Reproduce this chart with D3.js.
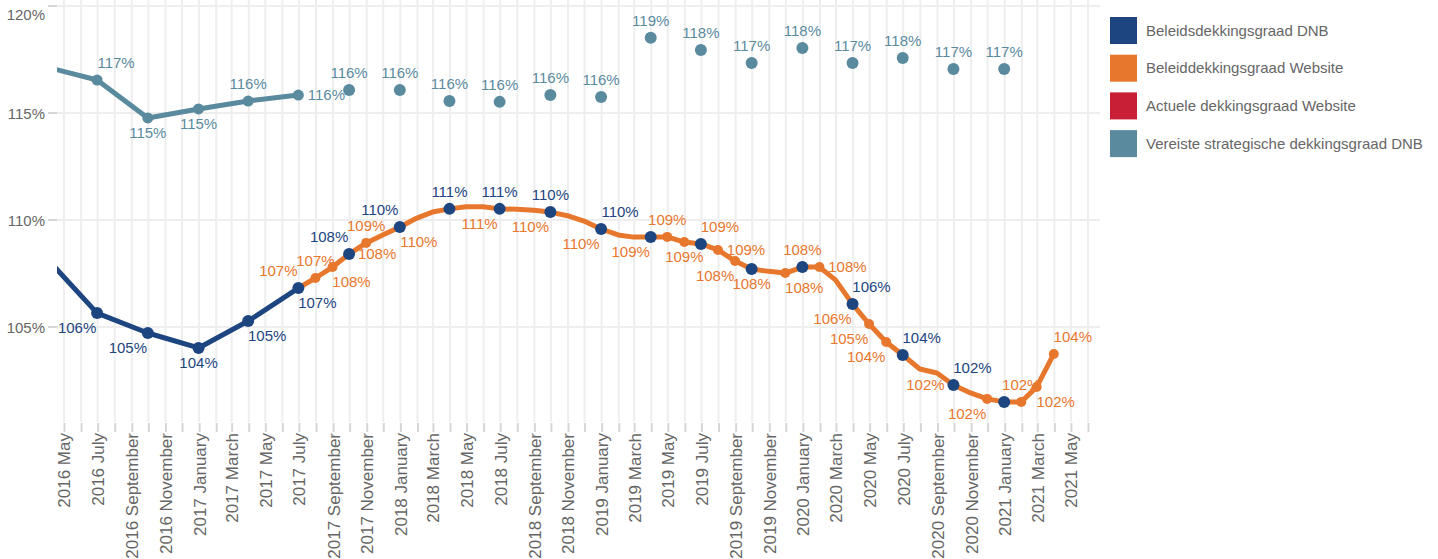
<!DOCTYPE html>
<html>
<head>
<meta charset="utf-8">
<script src="https://cdnjs.cloudflare.com/ajax/libs/d3/7.8.5/d3.min.js"></script>
<style>
  body { margin: 0; background: #fff; }
  svg { font-family: "Liberation Sans", Arial, sans-serif; }
</style>
</head>
<body>
<svg id="chart" width="1438" height="559"></svg>
<script>
// quarter ends (DNB figures)
var quarters = ["2016-03", "2016-06", "2016-09", "2016-12", "2017-03", "2017-06", "2017-09", "2017-12",
    "2018-03", "2018-06", "2018-09", "2018-12", "2019-03", "2019-06", "2019-09", "2019-12",
    "2020-03", "2020-06", "2020-09", "2020-12"];

var dnbValues = [108.2, 105.65, 104.72, 104.02, 105.28, 106.82, 108.41, 109.67,
    110.52, 110.52, 110.37, 109.58, 109.21, 108.88, 107.71, 107.80,
    106.07, 103.69, 102.29, 101.50];

var vereisteValues = [117.14, 116.54, 114.77, 115.19, 115.56, 115.84, 116.07, 116.07,
    115.56, 115.52, 115.84, 115.75, 118.52, 117.94, 117.34, 118.04,
    117.34, 117.57, 117.06, 117.06];

// monthly website figures
var websiteMonths = ["2017-06", "2017-07", "2017-08", "2017-09", "2017-10", "2017-11", "2017-12",
    "2018-01", "2018-02", "2018-03", "2018-04", "2018-05", "2018-06", "2018-07", "2018-08", "2018-09", "2018-10", "2018-11", "2018-12",
    "2019-01", "2019-02", "2019-03", "2019-04", "2019-05", "2019-06", "2019-07", "2019-08", "2019-09", "2019-10", "2019-11", "2019-12",
    "2020-01", "2020-02", "2020-03", "2020-04", "2020-05", "2020-06", "2020-07", "2020-08", "2020-09", "2020-10", "2020-11", "2020-12",
    "2021-01", "2021-02", "2021-03"];

var websiteValues = [106.82, 107.29, 107.80, 108.41, 108.93, 109.30, 109.67,
    110.09, 110.37, 110.52, 110.62, 110.62, 110.52, 110.50, 110.46, 110.37, 110.20, 109.95, 109.58,
    109.30, 109.20, 109.21, 109.21, 108.97, 108.88, 108.60, 108.08, 107.71, 107.60, 107.52, 107.80,
    107.80, 107.20, 106.07, 105.14, 104.30, 103.69, 103.04, 102.85, 102.29, 101.92, 101.64, 101.50,
    101.50, 102.20, 103.74];

var yTicks = [105, 110, 115, 120];

var legendLabels = ["Beleidsdekkingsgraad DNB", "Beleiddekkingsgraad Website",
    "Actuele dekkingsgraad Website", "Vereiste strategische dekkingsgraad DNB"];

// label placement per point: a above, b below, l/r left/right, '' marker only, x no marker
var dnbLabelPos = ["", "bl", "bl", "b", "br", "br", "al", "al", "a", "a", "a", "ar", "", "", "", "", "ar", "ar", "ar", ""];
var vereisteLabelPos = ["", "ar", "b", "b", "a", "r", "a", "a", "a", "a", "a", "a", "a", "a", "a", "a", "a", "a", "a", "a"];
var websiteLabelPos = ["al", "a", "br", "r", "a", "x", "br",
    "x", "x", "", "x", "x", "bl", "x", "x", "bl", "x", "x", "bl",
    "x", "x", "bl", "a", "b", "ar", "r", "bl", "b", "x", "br", "a",
    "r", "x", "bl", "bl", "bl", "", "x", "x", "l", "x", "bl", "",
    "a", "br", "ar"];

var colors = {
    dnb: "#1d4580",
    web: "#e8772e",
    actueel: "#c81f36",
    vereist: "#5a8a9e"
};
var legendColors = [colors.dnb, colors.web, colors.actueel, colors.vereist];

var offsets = {
    a: [0, -17], b: [0, 15], al: [-20, -17], ar: [19, -17],
    bl: [-20, 15], br: [19, 15], l: [-28, 0], r: [28, 0]
};

var parseMonth = d3.timeParse("%Y-%m");
function monthEnd(s) {
    return d3.timeDay.offset(d3.timeMonth.offset(parseMonth(s), 1), -1);
}

var dnb = quarters.map(function(q, i) {
    return { date: monthEnd(q), value: dnbValues[i], pos: dnbLabelPos[i] };
});
var vereist = quarters.map(function(q, i) {
    return { date: monthEnd(q), value: vereisteValues[i], pos: vereisteLabelPos[i] };
});
var web = websiteMonths.map(function(m, i) {
    return { date: monthEnd(m), value: websiteValues[i], pos: websiteLabelPos[i] };
});

// the historical part is drawn as a line, later figures as markers only
var lineEnd = monthEnd("2017-06");

var plot = { left: 57, right: 1100, top: 0, bottom: 422 };

var x = d3.scaleTime()
    .domain([new Date(2016, 4, 1), new Date(2021, 5, 1)])
    .range([64, 1088]);
var y = d3.scaleLinear()
    .domain([100, 120])
    .range([434, 6]);

var svg = d3.select("#chart");

svg.append("defs").append("clipPath").attr("id", "clip")
    .append("rect")
    .attr("x", plot.left).attr("y", plot.top)
    .attr("width", plot.right - plot.left)
    .attr("height", plot.bottom - plot.top);

// vertical grid, every month
var months = d3.timeMonth.range(new Date(2016, 4, 1), new Date(2021, 5, 2));
svg.append("g").selectAll("line")
    .data(months).enter().append("line")
    .attr("x1", function(d) { return x(d); })
    .attr("x2", function(d) { return x(d); })
    .attr("y1", plot.top).attr("y2", plot.bottom)
    .attr("stroke", "#eeeeee").attr("stroke-width", 2);

// horizontal grid
svg.append("g").selectAll("line")
    .data(yTicks).enter().append("line")
    .attr("x1", plot.left).attr("x2", plot.right)
    .attr("y1", function(d) { return y(d); })
    .attr("y2", function(d) { return y(d); })
    .attr("stroke", "#eeeeee").attr("stroke-width", 2);

// y axis
var yAxis = svg.append("g");
yAxis.selectAll("line")
    .data(yTicks).enter().append("line")
    .attr("x1", 48).attr("x2", plot.left)
    .attr("y1", function(d) { return y(d); })
    .attr("y2", function(d) { return y(d); })
    .attr("stroke", "#d6d6d6").attr("stroke-width", 2);
yAxis.selectAll("text")
    .data(yTicks).enter().append("text")
    .attr("x", 45)
    .attr("y", function(d) { return Math.max(y(d) + 1, 15); })
    .attr("dy", "0.35em")
    .attr("text-anchor", "end")
    .attr("fill", "#666")
    .style("font-size", "15px")
    .text(function(d) { return d + "%"; });

// x axis
var fmt = d3.timeFormat("%Y %B");
var xAxis = svg.append("g")
    .attr("transform", "translate(0," + (plot.bottom + 1) + ")")
    .call(d3.axisBottom(x)
        .ticks(d3.timeMonth.every(1))
        .tickSize(9)
        .tickFormat(function(d) { return d.getMonth() % 2 === 0 ? fmt(d) : ""; }));
xAxis.select(".domain").remove();
xAxis.selectAll(".tick line").attr("stroke", "#d6d6d6").attr("stroke-width", 2);
xAxis.selectAll(".tick text")
    .attr("transform", "rotate(-90)")
    .attr("x", -10).attr("y", 0)
    .attr("dy", "0.35em")
    .attr("text-anchor", "end")
    .attr("fill", "#666")
    .style("font-size", "17px")
    .style("font-family", "Liberation Sans, Arial, sans-serif");

var line = d3.line()
    .x(function(d) { return x(d.date); })
    .y(function(d) { return y(d.value); });

var marks = svg.append("g").attr("clip-path", "url(#clip)");

function histPart(arr) {
    return arr.filter(function(d) { return d.date <= lineEnd; });
}

// vereiste strategische dekkingsgraad
marks.append("path")
    .datum(histPart(vereist))
    .attr("d", line)
    .attr("fill", "none")
    .attr("stroke", colors.vereist)
    .attr("stroke-width", 5)
    .attr("stroke-linejoin", "round");
marks.append("g").selectAll("circle")
    .data(vereist).enter().append("circle")
    .attr("cx", function(d) { return x(d.date); })
    .attr("cy", function(d) { return y(d.value); })
    .attr("r", function(d) { return d.date <= lineEnd ? 5.5 : 6; })
    .attr("fill", colors.vereist);

// beleidsdekkingsgraad DNB line
marks.append("path")
    .datum(histPart(dnb))
    .attr("d", line)
    .attr("fill", "none")
    .attr("stroke", colors.dnb)
    .attr("stroke-width", 5)
    .attr("stroke-linejoin", "round");

// website line
marks.append("path")
    .datum(web)
    .attr("d", line)
    .attr("fill", "none")
    .attr("stroke", colors.web)
    .attr("stroke-width", 5)
    .attr("stroke-linejoin", "round");
marks.append("g").selectAll("circle")
    .data(web.filter(function(d) { return d.pos !== "x"; })).enter().append("circle")
    .attr("cx", function(d) { return x(d.date); })
    .attr("cy", function(d) { return y(d.value); })
    .attr("r", 5)
    .attr("fill", colors.web);

// DNB markers on top
marks.append("g").selectAll("circle")
    .data(dnb).enter().append("circle")
    .attr("cx", function(d) { return x(d.date); })
    .attr("cy", function(d) { return y(d.value); })
    .attr("r", 6)
    .attr("fill", colors.dnb);

// data labels
function addLabels(arr, color) {
    var withLabel = arr.filter(function(d) { return offsets[d.pos]; });
    svg.append("g").selectAll("text")
        .data(withLabel).enter().append("text")
        .attr("x", function(d) { return x(d.date) + offsets[d.pos][0]; })
        .attr("y", function(d) { return y(d.value) + offsets[d.pos][1]; })
        .attr("dy", "0.35em")
        .attr("text-anchor", "middle")
        .attr("fill", color)
        .style("font-size", "15px")
        .text(function(d) { return Math.round(d.value) + "%"; });
}
addLabels(vereist, colors.vereist);
addLabels(web, colors.web);
addLabels(dnb, colors.dnb);

// legend
var legend = svg.append("g").attr("transform", "translate(1110,17)");
var item = legend.selectAll("g")
    .data(legendLabels).enter().append("g")
    .attr("transform", function(d, i) { return "translate(0," + (i * 37.7) + ")"; });
item.append("rect")
    .attr("width", 27).attr("height", 27)
    .attr("fill", function(d, i) { return legendColors[i]; });
item.append("text")
    .attr("x", 36).attr("y", 13.5)
    .attr("dy", "0.35em")
    .attr("fill", "#666")
    .style("font-size", "15px")
    .text(function(d) { return d; });
</script>
</body>
</html>
